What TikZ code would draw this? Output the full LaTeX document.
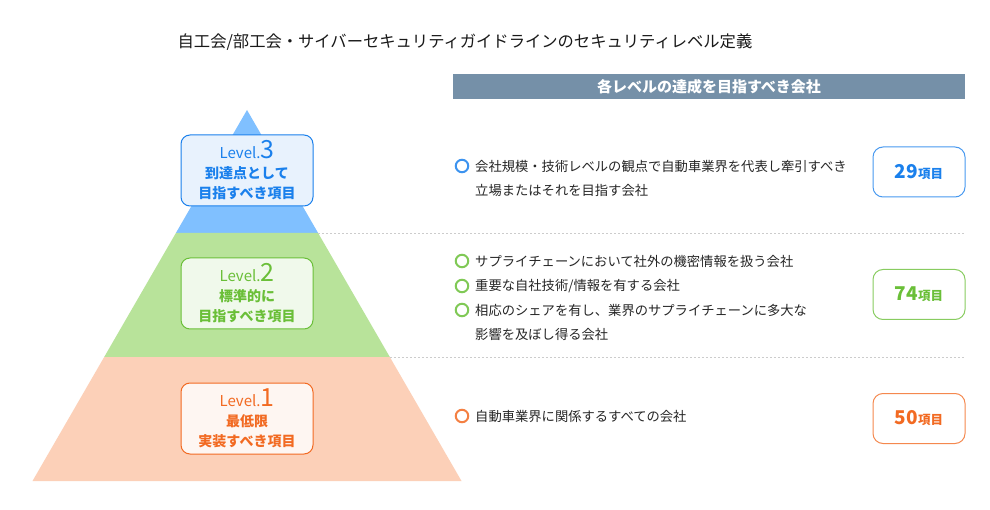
\documentclass[tikz,border=0pt]{standalone}
\usepackage{fontspec}
\setmainfont{Noto Sans CJK JP}
\definecolor{txtgray}{HTML}{262626}
\definecolor{hdrbar}{HTML}{7590A8}
\definecolor{lvblue}{HTML}{1A80EC}
\definecolor{lvgreen}{HTML}{6ABF38}
\definecolor{lvorange}{HTML}{F26A22}
\definecolor{bandblue}{HTML}{80C0FF}
\definecolor{bandgreen}{HTML}{B8E39A}
\definecolor{bandorange}{HTML}{FCD0B8}
\begin{document}
\begin{tikzpicture}[x=1pt,y=-1pt,every node/.style={font=\fontsize{13.3pt}{24pt}\selectfont,text=txtgray,inner sep=0pt},
  lvbox/.style={draw=#1,text=#1,rounded corners=9pt,line width=1pt,minimum width=132pt,minimum height=71pt,align=center,font=\bfseries\fontsize{14pt}{20pt}\selectfont},
  cntbox/.style={draw=#1!80!white,text=#1,rounded corners=10pt,line width=1pt,minimum width=92pt,minimum height=50pt,font=\bfseries\fontsize{19pt}{20pt}\selectfont},
  bul/.style={draw=#1!85!white,circle,line width=2pt,minimum size=12.5pt},
  sepline/.style={draw=black!20,line width=0.8pt,dash pattern=on 2pt off 2pt}]
\fill[white] (0,0) rectangle (990,510);
\node[font=\fontsize{16.3pt}{16pt}\selectfont,text=black!90] (title) at (465,42) {自工会/部工会・サイバーセキュリティガイドラインのセキュリティレベル定義};
% pyramid
\fill[bandblue] (247,110) -- (318.1,233) -- (175.9,233) -- cycle;
\fill[bandgreen] (175.9,233) -- (318.1,233) -- (389.8,357) -- (104.2,357) -- cycle;
\fill[bandorange] (104.2,357) -- (389.8,357) -- (461.5,481) -- (32.5,481) -- cycle;
\draw[sepline] (318.1,233) -- (965,233);
\draw[sepline] (389.8,357) -- (965,357);
\node[lvbox=lvblue,fill=lvblue!10!white] (lv3) at (247,170.5) {{\mdseries\fontsize{15pt}{14pt}\selectfont Level.\fontsize{25pt}{24pt}\selectfont 3}\\到達点として\\目指すべき項目};
\node[lvbox=lvgreen,fill=lvgreen!10!white] (lv2) at (247,293.5) {{\mdseries\fontsize{15pt}{14pt}\selectfont Level.\fontsize{25pt}{24pt}\selectfont 2}\\標準的に\\目指すべき項目};
\node[lvbox=lvorange,fill=lvorange!6!white] (lv1) at (247,418.5) {{\mdseries\fontsize{15pt}{14pt}\selectfont Level.\fontsize{25pt}{24pt}\selectfont 1}\\最低限\\実装すべき項目};
% right side
\node[fill=hdrbar,text=white,minimum width=512pt,minimum height=25pt,font=\bfseries\fontsize{15pt}{14pt}\selectfont] (hdr) at (709,86.5) {各レベルの達成を目指すべき会社};
\node[bul=lvblue] (b3a) at (462,166) {};
\node[anchor=west,align=left] (t3a) at (475,178) {会社規模・技術レベルの観点で自動車業界を代表し牽引すべき\\立場またはそれを目指す会社};
\node[bul=lvgreen] (b2a) at (462,261) {};
\node[anchor=west] (t2a) at (475,261) {サプライチェーンにおいて社外の機密情報を扱う会社};
\node[bul=lvgreen] (b2b) at (462,286) {};
\node[anchor=west] (t2b) at (475,286) {重要な自社技術/情報を有する会社};
\node[bul=lvgreen] (b2c) at (462,310) {};
\node[anchor=west,align=left] (t2c) at (475,322) {相応のシェアを有し、業界のサプライチェーンに多大な\\影響を及ぼし得る会社};
\node[bul=lvorange] (b1a) at (462,416) {};
\node[anchor=west] (t1a) at (475,416) {自動車業界に関係するすべての会社};
\node[cntbox=lvblue] (c3) at (919,172) {29{\fontsize{12.5pt}{12pt}\selectfont 項目}};
\node[cntbox=lvgreen] (c2) at (919,294.5) {74{\fontsize{12.5pt}{12pt}\selectfont 項目}};
\node[cntbox=lvorange] (c1) at (919,418.5) {50{\fontsize{12.5pt}{12pt}\selectfont 項目}};
\end{tikzpicture}
\end{document}
